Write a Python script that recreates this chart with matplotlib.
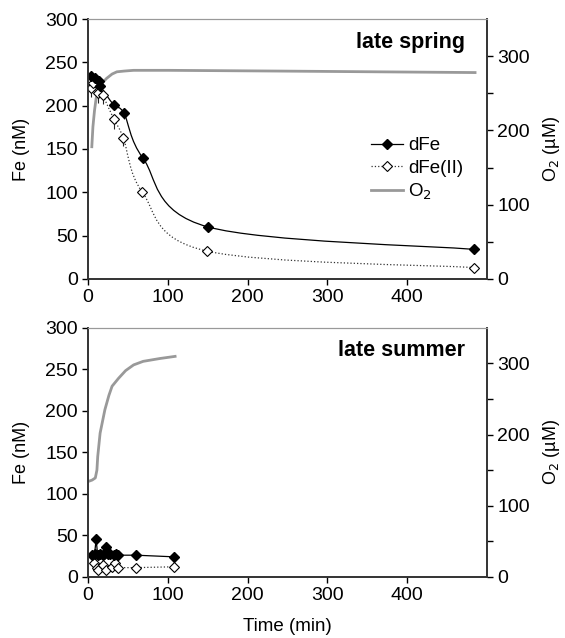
import numpy as np
import matplotlib.pyplot as plt
from matplotlib.path import Path
from matplotlib.patches import PathPatch

plt.rcParams['font.family'] = ['Liberation Sans', 'DejaVu Sans']

# late spring
sp_t_fe = [3, 9, 13, 15, 32, 45, 69, 150, 484]
sp_fe = [234, 232, 228, 223, 201, 191, 139, 60, 34]
sp_fe_err = [6, 5, 6, 6, 5, 6, 4, 3, 2]
sp_t_fe2 = [4, 6, 12, 18, 32, 44, 68, 149, 484]
sp_fe2 = [220, 226, 215, 212, 185, 163, 100, 32, 13]
sp_fe2_err = [10, 6, 12, 10, 12, 10, 3, 2, 2]
sp_t_o2 = [4.6, 6, 8, 10, 13, 17, 23, 30, 36, 45, 57, 100, 240, 485]
sp_o2 = [178, 205, 227, 243, 254, 263, 270, 276, 279, 280, 281, 281, 280, 278]

# late summer
su_t_fe = [5, 8, 10, 12, 15, 18, 20, 23, 25, 28, 32, 35, 38, 60, 108]
su_fe = [26, 27, 45, 26, 27, 26, 28, 36, 27, 28, 26, 27, 26, 26, 24]
su_t_fe2 = [7, 11, 12, 19, 23, 30, 34, 38, 60, 107]
su_fe2 = [16, 10, 8, 14, 8, 12, 16, 11, 11, 12]
su_t_o2 = [0, 5, 9, 11, 12, 15, 21, 26, 30, 38, 47, 57, 69, 90, 109]
su_o2 = [134, 136, 139, 150, 169, 202, 235, 255, 268, 279, 290, 298, 303, 307, 310]

xticks = [0, 100, 200, 300, 400]


def smooth_path(x, y):
    # spreadsheet-style smoothed line: cubic bezier through every point
    p = np.column_stack([x, y]).astype(float)
    verts = [p[0]]
    codes = [Path.MOVETO]
    n = len(p)
    for i in range(n - 1):
        p0 = p[i - 1] if i > 0 else p[i]
        p3 = p[i + 2] if i + 2 < n else p[i + 1]
        c1 = p[i] + (p[i + 1] - p0) / 6
        c2 = p[i + 1] - (p3 - p[i]) / 6
        verts += [c1, c2, p[i + 1]]
        codes += [Path.CURVE4] * 3
    return Path(verts, codes)


fig = plt.figure(figsize=(5.65, 6.38), dpi=100)
ax1 = fig.add_axes([0.156, 0.563, 0.706, 0.407])
ax2 = fig.add_axes([0.156, 0.096, 0.706, 0.390])

panels = [
    (ax1, 'late spring', True, sp_t_fe, sp_fe, sp_fe_err, sp_t_fe2, sp_fe2, sp_fe2_err, sp_t_o2, sp_o2),
    (ax2, 'late summer', False, su_t_fe, su_fe, None, su_t_fe2, su_fe2, None, su_t_o2, su_o2),
]

for ax, title, smooth, tf, fe, fe_err, tf2, fe2, fe2_err, to, o2 in panels:
    axr = ax.twinx()
    l3, = axr.plot(to, o2, color='#999999', lw=2, label='O$_2$')
    axr.set_ylim(0, 350)
    axr.set_yticks([0, 100, 200, 300])
    axr.set_yticks([50, 150, 250], minor=True)
    axr.tick_params(axis='y', which='both', direction='out', labelsize=14, length=4, width=1)
    axr.set_ylabel('O$_2$ (µM)', fontsize=13, labelpad=8)

    ax.set_zorder(axr.get_zorder() + 1)
    ax.patch.set_visible(False)

    if fe2_err is not None:
        ax.errorbar(tf2, fe2, yerr=[fe2_err, [0] * len(fe2_err)], fmt='none', ecolor='#222222', elinewidth=0.8, capsize=0)
        ax.errorbar(tf, fe, yerr=[fe_err, [0] * len(fe_err)], fmt='none', ecolor='#222222', elinewidth=0.8, capsize=0)

    if smooth:
        ax.add_patch(PathPatch(smooth_path(tf2, fe2), fill=False, ls=':', ec='#333333', lw=0.9))
        ax.add_patch(PathPatch(smooth_path(tf, fe), fill=False, ls='-', ec='black', lw=0.9))
        ls2, ls1 = 'none', 'none'
    else:
        ls2, ls1 = ':', '-'
    ax.plot(tf2, fe2, ls=ls2, color='#333333', lw=0.9, marker='D', ms=5.5,
            mfc='white', mec='black', mew=0.8)
    ax.plot(tf, fe, ls=ls1, color='black', lw=0.9, marker='D', ms=5.5,
            mfc='black', mec='black')

    ax.set_xlim(0, 500)
    ax.set_ylim(0, 300)
    ax.set_xticks(xticks)
    ax.set_yticks(range(0, 301, 50))
    ax.tick_params(axis='both', direction='out', labelsize=14, length=4, width=1)
    ax.set_ylabel('Fe (nM)', fontsize=13, labelpad=11)
    ax.text(0.945, 0.95, title, transform=ax.transAxes, ha='right', va='top',
            fontsize=15.5, fontweight='bold')

    for a in (ax, axr):
        a.spines['top'].set_color('#999999')
        for s in ('left', 'right', 'bottom'):
            a.spines[s].set_color('#333333')
            a.spines[s].set_linewidth(1.2)

    if ax is ax1:
        h1, = ax.plot([], [], ls='-', color='black', lw=0.9, marker='D', ms=5.5,
                      mfc='black', mec='black', label='dFe')
        h2, = ax.plot([], [], ls=':', color='#333333', lw=0.9, marker='D', ms=5.5,
                      mfc='white', mec='black', mew=0.8, label='dFe(II)')
        ax.legend(handles=[h1, h2, l3], loc='center right', bbox_to_anchor=(0.96, 0.42),
                  frameon=False, fontsize=13.5, handlelength=1.7, handletextpad=0.3,
                  labelspacing=0.28, borderaxespad=0.0)

ax2.set_xlabel('Time (min)', fontsize=13.5, labelpad=10)

plt.savefig('out.png', dpi=100)
